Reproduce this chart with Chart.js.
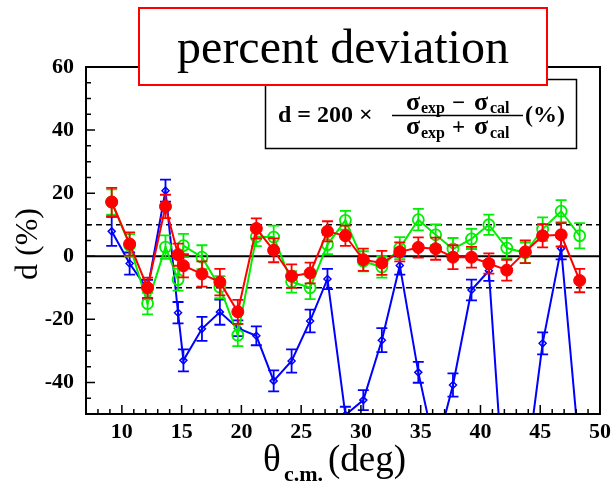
<!DOCTYPE html>
<html>
<head>
<meta charset="utf-8">
<script src="https://cdn.jsdelivr.net/npm/chart.js@4.4.0/dist/chart.umd.min.js"></script>
<style>
  html, body { margin: 0; padding: 0; background: #fff; }
  #wrap { width: 616px; height: 482px; position: relative; }
</style>
</head>
<body>
<div id="wrap"><canvas id="devChart" width="616" height="482"></canvas></div>
<script>
// --- DATA ---
const theta = [9.15, 10.65, 12.15, 13.65, 14.7, 15.15, 16.7, 18.2, 19.7, 21.25, 22.7, 24.2, 25.75, 27.2,
               28.7, 30.2, 31.75, 33.25, 34.8, 36.25, 37.7, 39.25, 40.7, 42.2, 43.75, 45.2, 46.75, 48.3];

const dRed   = [17.2, 3.9, -10, 15.8, 0.5, -3, -5.6, -8.2, -17.6, 8.8, 1.9, -6.3, -5.3, 7.9,
                6.5, -1.1, -2.1, 1.4, 2.8, 2.4, -0.3, -0.3, -2.3, -4.4, 1.4, 6.5, 6.8, -7.7];
const errRed = [4.5, 3.7, 3.2, 3.7, 3.5, 3.7, 4, 4.2, 3.8, 3.2, 3.8, 3.7, 3.3, 3.2,
                3.2, 3.5, 3.8, 3, 3.2, 3.5, 3.8, 3.3, 3.2, 3.3, 3.6, 3.7, 3.7, 3.7];

const dGreen   = [17.2, 3.5, -15, 2.9, -7.4, 3.4, -0.3, -9.8, -25, 6.2, 6.1, -8.1, -10, 3.7,
                  11.4, -1.6, -3.4, 2.6, 11.6, 6.8, 2.3, 5.5, 10, 2.6, 1.1, 8.6, 14.3, 6.5];
const errGreen = [4, 3.5, 3.4, 3.7, 3.5, 3.7, 3.8, 3.5, 3.5, 3, 3.6, 3.4, 3.6, 3,
                  3, 3.2, 3.4, 3.5, 3.4, 3.3, 3.5, 3.2, 3.2, 3.2, 3.2, 3.7, 3.5, 4];

const dBlue   = [7.9, -2.3, -10.5, 20.8, -17.9, -33, -23, -17.7, -22.8, -25.2, -39.5, -33.2, -20.5, -7.2,
                 -50.3, -45.6, -26.6, -2.9, -36.8, -62, -40.8, -10.7, -4.6, -88, -70, -27.6, 2.5, -63];
const errBlue = [4.6, 3.5, 3, 3.5, 3.4, 3.5, 3.8, 4, 2.5, 3, 3.3, 3.7, 3.6, 3.2,
                 2.6, 3.2, 3.8, 2.9, 3.3, 3.5, 3.7, 3.3, 3.2, 3.5, 3.5, 3.5, 3.5, 3.5];

const xTickLabels = [10, 15, 20, 25, 30, 35, 40, 45, 50];
const yTickLabels = [60, 40, 20, 0, -20, -40];
const refLines = [10, 0, -10];

const SERIF = '"Liberation Serif", "Times New Roman", serif';

function pts(ys) {
  return theta.map((t, i) => ({ x: t, y: ys[i] }));
}

// --- helper: text pieces at given x positions ---
function drawAt(ctx, base, pieces) {
  pieces.forEach(p => {
    ctx.font = p.font;
    ctx.fillText(p.t, p.x, base + (p.dy || 0));
  });
}

// --- PLUGIN: error bars, frame, ticks, boxes ---
const devPlugin = {
  id: 'devPlugin',
  beforeDatasetsDraw(chart) {
    const { ctx, chartArea: a, scales: { y } } = chart;
    ctx.save();
    ctx.strokeStyle = '#000';
    refLines.forEach(v => {
      const py = y.getPixelForValue(v);
      ctx.setLineDash(v === 0 ? [] : [6, 4]);
      ctx.lineWidth = v === 0 ? 2 : 1.5;
      ctx.beginPath();
      ctx.moveTo(a.left, py);
      ctx.lineTo(a.right, py);
      ctx.stroke();
    });
    ctx.restore();
  },
  beforeDatasetDraw(chart, args) {
    const { ctx, chartArea: a, scales: { x, y } } = chart;
    const ds = chart.data.datasets[args.index];
    if (!ds.errors) return;
    ctx.save();
    ctx.beginPath();
    ctx.rect(a.left, a.top, a.width, a.height);
    ctx.clip();
    ctx.strokeStyle = ds.borderColor;
    ctx.lineWidth = 1.8;
    ds.data.forEach((p, i) => {
      const px = x.getPixelForValue(p.x);
      const y1 = y.getPixelForValue(p.y + ds.errors[i]);
      const y2 = y.getPixelForValue(p.y - ds.errors[i]);
      ctx.beginPath();
      ctx.moveTo(px, y1); ctx.lineTo(px, y2);
      ctx.moveTo(px - 5.5, y1); ctx.lineTo(px + 5.5, y1);
      ctx.moveTo(px - 5.5, y2); ctx.lineTo(px + 5.5, y2);
      ctx.stroke();
    });
    ctx.restore();
  },
  afterDatasetsDraw(chart) {
    const { ctx, chartArea: a, scales: { x, y } } = chart;
    ctx.save();
    ctx.strokeStyle = '#000';
    ctx.lineWidth = 2;
    ctx.strokeRect(a.left, a.top, a.width, a.height);
    ctx.lineWidth = 1.5;
    ctx.beginPath();
    // x ticks (inward), minor every 1 deg
    for (let v = 7; v <= 50; v++) {
      const px = x.getPixelForValue(v);
      const len = xTickLabels.includes(v) ? 9 : 5;
      ctx.moveTo(px, a.bottom); ctx.lineTo(px, a.bottom - len);
    }
    // y ticks (inward), minor every 5
    for (let v = -50; v <= 60; v += 5) {
      const py = y.getPixelForValue(v);
      const len = yTickLabels.includes(v) ? 9 : 5;
      ctx.moveTo(a.left, py); ctx.lineTo(a.left + len, py);
    }
    ctx.stroke();
    ctx.restore();
  },
  afterDraw(chart) {
    const { ctx } = chart;
    ctx.save();

    // formula box
    ctx.fillStyle = '#fff';
    ctx.fillRect(265, 79, 312, 70);
    ctx.strokeStyle = '#000';
    ctx.lineWidth = 1.5;
    ctx.strokeRect(265.5, 79.5, 311, 69);
    ctx.fillStyle = '#000';
    ctx.textAlign = 'left';
    ctx.textBaseline = 'alphabetic';
    const big = 'bold 23px ' + SERIF;
    const sig = 'bold 26px ' + SERIF;
    const sub = 'bold 16px ' + SERIF;
    drawAt(ctx, 122, [
      { t: 'd = 200 \u00d7', x: 278, font: 'bold 24px ' + SERIF },
      { t: '(%)', x: 525, font: 'bold 24px ' + SERIF }
    ]);
    drawAt(ctx, 110, [
      { t: '\u03c3', x: 406, font: sig },
      { t: 'exp', x: 421, font: sub, dy: 3 },
      { t: '\u2212', x: 452, font: big },
      { t: '\u03c3', x: 474, font: sig },
      { t: 'cal', x: 490, font: sub, dy: 3 }
    ]);
    drawAt(ctx, 134, [
      { t: '\u03c3', x: 406, font: sig },
      { t: 'exp', x: 421, font: sub, dy: 4 },
      { t: '+', x: 452, font: big },
      { t: '\u03c3', x: 474, font: sig },
      { t: 'cal', x: 490, font: sub, dy: 4 }
    ]);
    ctx.lineWidth = 1.5;
    ctx.beginPath();
    ctx.moveTo(392, 115.5); ctx.lineTo(523, 115.5);
    ctx.stroke();

    // title box
    ctx.fillStyle = '#fff';
    ctx.fillRect(139, 8, 408, 77);
    ctx.strokeStyle = '#ff0000';
    ctx.lineWidth = 2;
    ctx.strokeRect(139, 8, 408, 77);
    ctx.fillStyle = '#000';
    ctx.textAlign = 'center';
    ctx.font = '48px ' + SERIF;
    ctx.fillText('percent deviation', 343, 63);

    // axis titles
    ctx.textAlign = 'left';
    drawAt(ctx, 471, [
      { t: '\u03b8', x: 263, font: '37px ' + SERIF },
      { t: 'c.m.', x: 284, font: 'bold 22px ' + SERIF, dy: 10 },
      { t: '(deg)', x: 328, font: '37px ' + SERIF }
    ]);
    ctx.translate(37, 244);
    ctx.rotate(-Math.PI / 2);
    ctx.textAlign = 'center';
    ctx.font = '32px ' + SERIF;
    ctx.fillText('d (%)', 0, 0);
    ctx.restore();
  }
};

// --- CHART ---
const ctx = document.getElementById('devChart').getContext('2d');
const tickFont = { family: SERIF, size: 22, weight: 'bold' };

const devChart = new Chart(ctx, {
  type: 'line',
  data: {
    datasets: [
      {
        label: 'red',
        data: pts(dRed),
        errors: errRed,
        borderColor: '#ff0000',
        backgroundColor: '#ff0000',
        borderWidth: 2,
        pointStyle: 'circle',
        pointRadius: 6,
        pointBorderWidth: 1,
        tension: 0
      },
      {
        label: 'green',
        data: pts(dGreen),
        errors: errGreen,
        borderColor: '#00ee00',
        backgroundColor: 'rgba(0,0,0,0)',
        borderWidth: 2,
        pointStyle: 'circle',
        pointRadius: 5.5,
        pointBorderWidth: 1.8,
        tension: 0
      },
      {
        label: 'blue',
        data: pts(dBlue),
        errors: errBlue,
        borderColor: '#0000ff',
        backgroundColor: 'rgba(0,0,0,0)',
        borderWidth: 2,
        pointStyle: 'rectRot',
        pointRadius: 3.5,
        pointBorderWidth: 1.5,
        tension: 0
      }
    ]
  },
  options: {
    responsive: false,
    animation: false,
    devicePixelRatio: 1,
    layout: { padding: { left: 0, right: 15, top: 67, bottom: 0 } },
    plugins: {
      legend: { display: false },
      title: { display: false },
      tooltip: { enabled: false }
    },
    scales: {
      x: {
        type: 'linear',
        min: 7,
        max: 50,
        grid: { display: false, drawTicks: false },
        border: { display: false },
        afterBuildTicks: s => { s.ticks = xTickLabels.map(v => ({ value: v })); },
        afterFit: s => { s.height = 68; },
        ticks: { font: tickFont, color: '#000', padding: 5, maxRotation: 0, autoSkip: false }
      },
      y: {
        type: 'linear',
        min: -50,
        max: 60,
        grid: { display: false, drawTicks: false },
        border: { display: false },
        afterBuildTicks: s => { s.ticks = yTickLabels.map(v => ({ value: v })); },
        afterFit: s => { s.width = 86; },
        ticks: { font: tickFont, color: '#000', padding: 12, autoSkip: false }
      }
    }
  },
  plugins: [devPlugin]
});
</script>
</body>
</html>
